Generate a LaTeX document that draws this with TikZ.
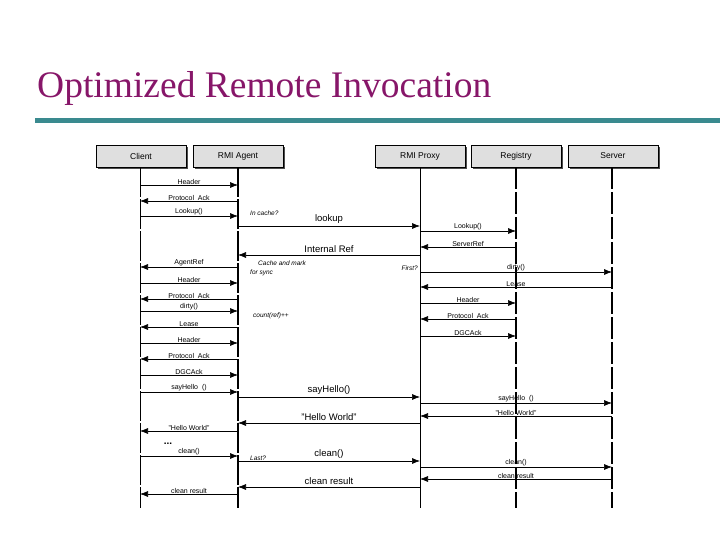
\documentclass[tikz,border=0pt]{standalone}
\usepackage{fontspec}
\setmainfont{Liberation Sans}
\newfontfamily\titlefont{Liberation Serif}
\usetikzlibrary{arrows.meta,shadows}
\definecolor{titlepurple}{RGB}{135,22,105}
\definecolor{barteal}{RGB}{58,138,143}
\begin{document}
\begin{tikzpicture}[x=1pt,y=-1pt,>={Latex[length=8pt,width=6pt]},
    actor/.style={draw, fill=gray!25, minimum width=90pt, minimum height=22pt, inner sep=0pt, font=\fontsize{8.5}{10}\selectfont, drop shadow={shadow xshift=2pt, shadow yshift=-2pt, fill=black!70, opacity=1}},
    thinlife/.style={line width=0.8pt, dash pattern=on 30pt off 2pt},
    thicklife/.style={line width=2.2pt, dash pattern=on 22pt off 3pt},
    msg/.style={->, line width=0.6pt},
    lbl/.style={above, inner sep=0.6pt, font=\fontsize{7}{8}\selectfont},
    biglbl/.style={above, inner sep=2.5pt, font=\fontsize{9.5}{11}\selectfont},
    note/.style={anchor=west, inner sep=0pt, font=\fontsize{6.5}{7}\selectfont\itshape}
]
\useasboundingbox (0,0) rectangle (720,540);
\node[anchor=base west, inner sep=0pt, text=titlepurple, font=\titlefont\fontsize{37.5}{42}\selectfont] (title) at (37,98) {Optimized Remote Invocation};
\fill[barteal] (35,118) rectangle (720,123);

\node[actor] (client) at (141,156) {Client};
\node[actor] (agent) at (238,156) {RMI Agent};
\node[actor] (proxy) at (420,156) {RMI Proxy};
\node[actor] (registry) at (516,156) {Registry};
\node[actor] (server) at (613,156) {Server};

\coordinate (clientend) at (140,508);
\coordinate (agentend) at (238,508);
\coordinate (proxyend) at (420,508);
\coordinate (registryend) at (516,508);
\coordinate (serverend) at (612,508);

\draw[thinlife] (client.south -| clientend) -- (clientend);
\draw[thinlife, line width=1.6pt] (agent.south -| agentend) -- (agentend);
\draw[line width=0.8pt] (proxy.south -| proxyend) -- (proxyend);
\draw[thicklife] (registry.south -| registryend) -- (registryend);
\draw[thicklife] (server.south -| serverend) -- (serverend);

\draw[msg] (clientend |- 0,185) -- node[lbl] {Header} (agentend |- 0,185);
\draw[msg] (agentend |- 0,201) -- node[lbl] {Protocol\ \ Ack} (clientend |- 0,201);
\draw[msg] (clientend |- 0,216) -- node[lbl] {Lookup()} (agentend |- 0,216);
\node[note] (incache) at (250,213) {In cache?};
\draw[msg] (agentend |- 0,226) -- node[biglbl] {lookup} (proxyend |- 0,226);
\draw[msg] (proxyend |- 0,231) -- node[lbl] {Lookup()} (registryend |- 0,231);
\draw[msg] (registryend |- 0,247) -- node[lbl] {ServerRef} (proxyend |- 0,247);
\draw[msg] (proxyend |- 0,255) -- node[biglbl] {Internal Ref} (agentend |- 0,255);
\draw[msg] (agentend |- 0,267) -- node[lbl] {AgentRef} (clientend |- 0,267);
\node[note] (cachemark) at (258,263) {Cache and mark};
\node[note] (forsync) at (250,273) {for sync};
\node[note, anchor=east] (first) at (418,268) {First?};
\draw[msg] (proxyend |- 0,272) -- node[lbl] {dirty()} (serverend |- 0,272);
\draw[msg] (clientend |- 0,283) -- node[lbl] {Header} (agentend |- 0,283);
\draw[msg] (serverend |- 0,287) -- node[lbl] {Lease} (proxyend |- 0,287);
\draw[msg] (agentend |- 0,299) -- node[lbl] {Protocol\ \ Ack} (clientend |- 0,299);
\draw[msg] (proxyend |- 0,303) -- node[lbl] {Header} (registryend |- 0,303);
\draw[msg] (clientend |- 0,311) -- node[lbl] {dirty()} (agentend |- 0,311);
\node[note] (count) at (253,316) {count(ref)++};
\draw[msg] (registryend |- 0,319) -- node[lbl] {Protocol\ \ Ack} (proxyend |- 0,319);
\draw[msg] (agentend |- 0,327) -- node[lbl] {Lease} (clientend |- 0,327);
\draw[msg] (proxyend |- 0,336) -- node[lbl] {DGCAck} (registryend |- 0,336);
\draw[msg] (clientend |- 0,343) -- node[lbl] {Header} (agentend |- 0,343);
\draw[msg] (agentend |- 0,359) -- node[lbl] {Protocol\ \ Ack} (clientend |- 0,359);
\draw[msg] (clientend |- 0,375) -- node[lbl] {DGCAck} (agentend |- 0,375);
\draw[msg] (clientend |- 0,392) -- node[lbl] {sayHello\ \ ()} (agentend |- 0,392);
\draw[msg] (agentend |- 0,397) -- node[biglbl] {sayHello()} (proxyend |- 0,397);
\draw[msg] (proxyend |- 0,403) -- node[lbl] {sayHello\ \ ()} (serverend |- 0,403);
\draw[msg] (serverend |- 0,416) -- node[lbl] {"Hello World"} (proxyend |- 0,416);
\draw[msg] (proxyend |- 0,423) -- node[biglbl] {"Hello World"} (agentend |- 0,423);
\draw[msg] (agentend |- 0,431) -- node[lbl] {"Hello World"} (clientend |- 0,431);
\node[inner sep=0pt, font=\bfseries] (dots) at (168,444) {...};
\draw[msg] (clientend |- 0,456) -- node[lbl] {clean()} (agentend |- 0,456);
\node[note] (last) at (250,458) {Last?};
\draw[msg] (agentend |- 0,461) -- node[biglbl] {clean()} (proxyend |- 0,461);
\draw[msg] (proxyend |- 0,467) -- node[lbl] {clean()} (serverend |- 0,467);
\draw[msg] (serverend |- 0,479) -- node[lbl] {clean result} (proxyend |- 0,479);
\draw[msg] (proxyend |- 0,487) -- node[biglbl] {clean result} (agentend |- 0,487);
\draw[msg] (agentend |- 0,494) -- node[lbl] {clean result} (clientend |- 0,494);
\end{tikzpicture}
\end{document}
